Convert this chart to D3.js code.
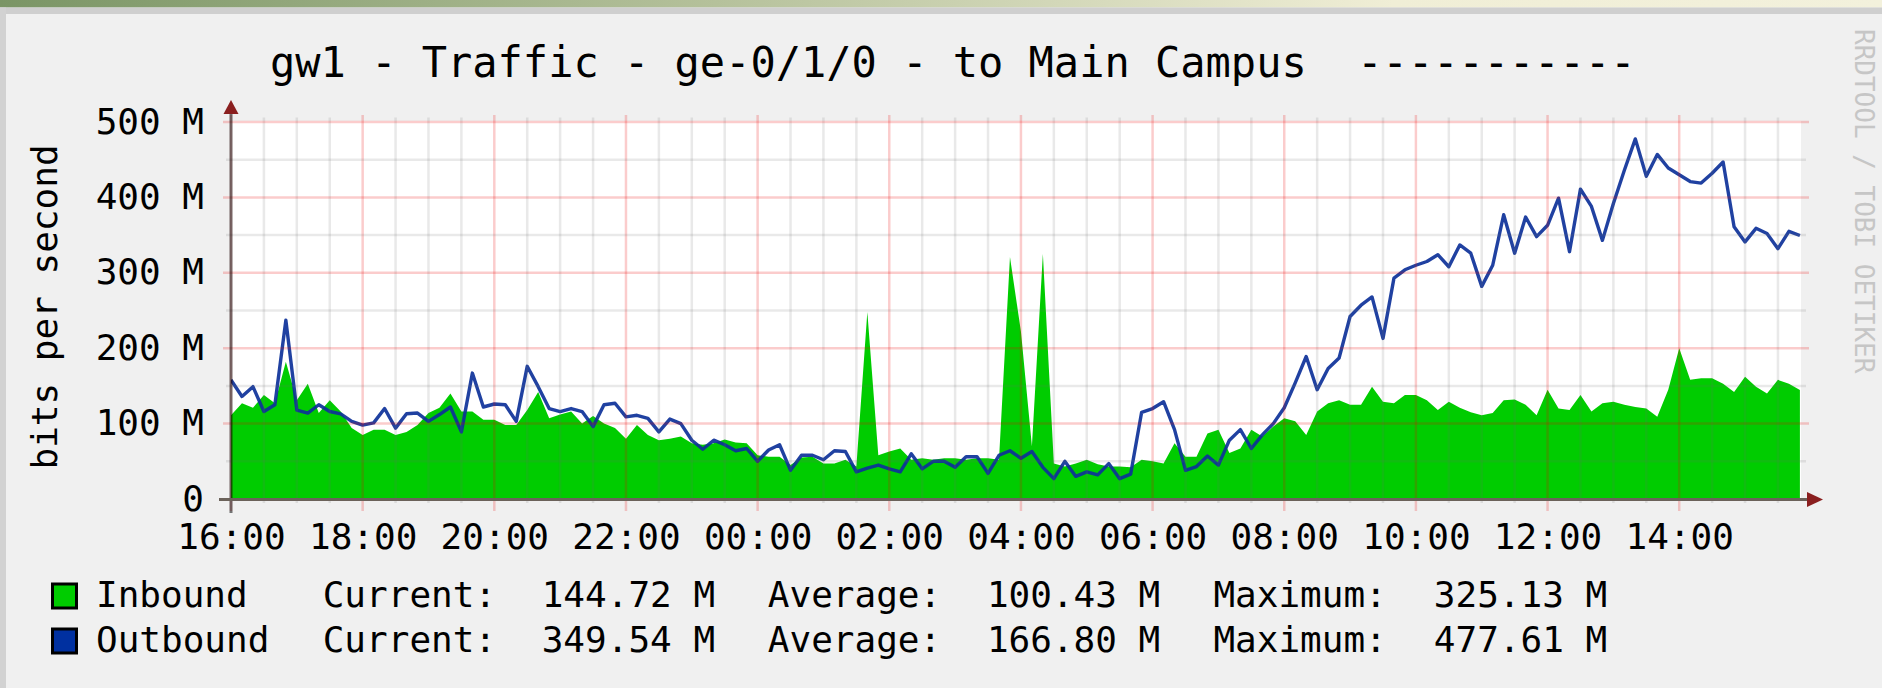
<!DOCTYPE html>
<html><head><meta charset="utf-8">
<script src="https://cdn.jsdelivr.net/npm/d3@7"></script>
<style>
html,body{margin:0;padding:0;background:#f0f0f0;}
svg{display:block;}
text{font-family:"DejaVu Sans Mono",monospace;}
</style></head><body>
<svg id="chart" width="1882" height="688"></svg>
<script>
// ---------------- data ----------------
const title = "gw1 - Traffic - ge-0/1/0 - to Main Campus  -----------";
const yAxisTitle = "bits per second";
const watermark = "RRDTOOL / TOBI OETIKER";
const startTime = new Date(2021, 0, 4, 16, 0, 0);
const stepMinutes = 10;
const yTickValues = [0, 100, 200, 300, 400, 500];
const yTickLabels = ["0", "100 M", "200 M", "300 M", "400 M", "500 M"];
const xTickLabels = ["16:00","18:00","20:00","22:00","00:00","02:00","04:00","06:00","08:00","10:00","12:00","14:00"];
const seriesNames = ["Inbound", "Outbound"];
const currentValues = ["144.72 M", "349.54 M"];
const averageValues = ["100.43 M", "166.80 M"];
const maximumValues = ["325.13 M", "477.61 M"];
// Mbit/s, one value every 10 minutes from 16:00
const inbound = [
 111,127,121,138,127,182,131,153,114,131,116,94,85,92,92,85,89,98,114,121,
 140,116,116,105,105,98,98,118,142,107,112,116,100,110,100,94,80,98,85,78,
 80,83,74,72,74,79,75,74,58,56,56,45,55,56,47,47,52,43,248,58,
 63,67,52,54,52,54,54,52,54,54,52,321,222,70,325.1,47,43,47,52,46,
 43,43,42,52,50,47,74,56,56,87,92,61,67,92,83,96,107,103,85,116,
 127,131,125,125,149,129,127,138,138,131,118,129,121,115,111,114,131,132,125,111,
 145,120,118,138,116,127,129,125,122,120,109,145,200,158,160,160,153,142,162,149,
 140,158,153,144.7
];
const outbound = [
 158,136,149,116,125,237,118,114,125,116,113,103,98,101,120,94,113,114,103,112,
 122,89,167,122,126,125,103,176,149,120,116,120,116,96,125,127,109,111,107,89,
 106,100,78,66,78,72,64,67,50,65,72,38,58,58,52,64,63,36,41,45,
 40,36,60,40,50,50,42,56,56,34,58,64,54,63,42,27,50,30,36,32,
 47,27,33,115,120,129,92,38,43,57,45,78,92,67,85,100,121,154,189,145,
 173,187,242,257,268,213,293,304,310,315,324,308,337,326,282,310,377,326,374,348,
 363,399,328,411,388,343,392,436,477.6,428,457,439,430,421,419,432,447,361,341,359,
 352,332,355,349.5
];

// ---------------- layout / style ----------------
const W = 1882, H = 688;
const plotLeft = 231, plotRight = 1801, plotTop = 121, zeroY = 499, maxY = 122;
const greenFill = "#00cc00", blueLine = "#0d3199";
const svg = d3.select("#chart");

const endTime = new Date(+startTime + 1431 * 60000);
const x = d3.scaleTime().domain([startTime, endTime]).range([plotLeft, plotRight]);
const y = d3.scaleLinear().domain([0, 500]).range([zeroY, maxY]);
const tAt = i => new Date(+startTime + i * stepMinutes * 60000);

// page frame
const defs = svg.append("defs");
const grad = defs.append("linearGradient").attr("id", "topband").attr("x1", "0").attr("x2", "1");
[["0%", "#7a9565"], ["38%", "#b5c19b"], ["74%", "#f0eed6"], ["100%", "#f3f1dc"]]
  .forEach(([o, c]) => grad.append("stop").attr("offset", o).attr("stop-color", c));
svg.append("rect").attr("width", W).attr("height", H).attr("fill", "#f0f0f0");
svg.append("rect").attr("x", 0).attr("y", 0).attr("width", W).attr("height", 7.5).attr("fill", "url(#topband)");
svg.append("rect").attr("x", 0).attr("y", 7.5).attr("width", W).attr("height", 6.5).attr("fill", "#cfcfcf");
svg.append("rect").attr("x", 0).attr("y", 7.5).attr("width", 6).attr("height", H).attr("fill", "#d2d2d2");

defs.append("clipPath").attr("id", "plotclip").append("rect")
  .attr("x", plotLeft).attr("y", plotTop).attr("width", plotRight - plotLeft).attr("height", zeroY - plotTop + 1);

// plot background
svg.append("rect").attr("x", plotLeft).attr("y", plotTop)
  .attr("width", plotRight - plotLeft).attr("height", zeroY - plotTop).attr("fill", "#ffffff");

const gData = svg.append("g").attr("clip-path", "url(#plotclip)");
gData.append("path").datum(inbound)
  .attr("d", d3.area().x((d, i) => x(tAt(i))).y0(y(0)).y1(d => y(d)))
  .attr("fill", greenFill);
gData.append("path").datum(outbound)
  .attr("d", d3.line().x((d, i) => x(tAt(i))).y(d => y(d)))
  .attr("fill", "none").attr("stroke", blueLine).attr("stroke-width", 3.4)
  .attr("stroke-opacity", 0.92).attr("stroke-linejoin", "round");

// grid (drawn over data, semi-transparent as in rrdtool)
const majorGrid = "rgba(235,0,0,0.2)", minorGrid = "rgba(110,110,110,0.15)";
const gGrid = svg.append("g");
const halfHours = d3.timeMinute.every(30).range(startTime, endTime);
halfHours.forEach(t => {
  const major = t.getMinutes() === 0 && t.getHours() % 2 === 0;
  gGrid.append("line")
    .attr("x1", x(t)).attr("x2", x(t))
    .attr("y1", major ? 115 : 117.5).attr("y2", major ? 511 : 503)
    .attr("stroke", major ? majorGrid : minorGrid)
    .attr("stroke-width", 2.5);
});
d3.range(50, 501, 50).forEach(v => {
  const major = v % 100 === 0;
  gGrid.append("line")
    .attr("x1", major ? 223 : 226).attr("x2", major ? 1809 : 1806)
    .attr("y1", y(v)).attr("y2", y(v))
    .attr("stroke", major ? majorGrid : minorGrid)
    .attr("stroke-width", 2.5);
});

// axis lines and arrows
svg.append("line").attr("x1", plotLeft).attr("x2", plotLeft).attr("y1", 112).attr("y2", 513)
  .attr("stroke", "rgba(0,0,0,0.52)").attr("stroke-width", 3);
svg.append("line").attr("x1", 219).attr("x2", 1808).attr("y1", zeroY + 0.5).attr("y2", zeroY + 0.5)
  .attr("stroke", "#6b625a").attr("stroke-width", 3);
svg.append("path").attr("d", `M${plotLeft},100 L${plotLeft - 7.5},114 L${plotLeft + 7.5},114 Z`).attr("fill", "#8a1f1f");
svg.append("path").attr("d", `M1823,${zeroY + 0.5} L1807,${zeroY - 7} L1807,${zeroY + 8} Z`).attr("fill", "#8a1f1f");

// y axis labels
const yAxis = d3.axisLeft(y).tickValues(yTickValues)
  .tickFormat((d, i) => yTickLabels[i]).tickSize(0).tickPadding(27);
const gy = svg.append("g").attr("transform", `translate(${plotLeft},0)`).call(yAxis);
gy.select(".domain").remove();
gy.attr("font-family", "DejaVu Sans Mono").attr("font-size", 36);
gy.selectAll("text").attr("fill", "#000").attr("dy", "0.31em");

// x axis labels
const xTicks = d3.timeHour.every(2).range(startTime, endTime);
const xAxis = d3.axisBottom(x).tickValues(xTicks)
  .tickFormat((d, i) => xTickLabels[i]).tickSize(0).tickPadding(24);
const gx = svg.append("g").attr("transform", `translate(0,${zeroY})`).call(xAxis);
gx.select(".domain").remove();
gx.attr("font-family", "DejaVu Sans Mono").attr("font-size", 36);
gx.selectAll("text").attr("fill", "#000");

// title
svg.append("text").attr("x", 270).attr("y", 77).attr("font-size", 42)
  .attr("fill", "#000").style("white-space", "pre").text(title);

// y axis title
svg.append("text").attr("transform", "translate(57,307) rotate(-90)")
  .attr("text-anchor", "middle").attr("font-size", 36).attr("fill", "#000").text(yAxisTitle);

// watermark
svg.append("text").attr("transform", "translate(1855,29) rotate(90)")
  .attr("font-size", 26).attr("fill", "#c6c6c6").text(watermark);

// legend
const legendColors = [greenFill, "#0030a0"];
const legendRows = [606.5, 651.5];
const colX = [96, 322.7, 541.7, 767.8, 986.9, 1213.4, 1433.8];
seriesNames.forEach((name, k) => {
  const by = legendRows[k];
  svg.append("rect").attr("x", 52.5).attr("y", by - 22.5).attr("width", 24).attr("height", 24)
    .attr("fill", legendColors[k]).attr("stroke", "#000").attr("stroke-width", 3);
  const pieces = [name, "Current:", currentValues[k], "Average:", averageValues[k], "Maximum:", maximumValues[k]];
  pieces.forEach((p, j) => {
    svg.append("text").attr("x", colX[j]).attr("y", by).attr("font-size", 36)
      .attr("fill", "#000").style("white-space", "pre").text(p);
  });
});
</script>
</body></html>
